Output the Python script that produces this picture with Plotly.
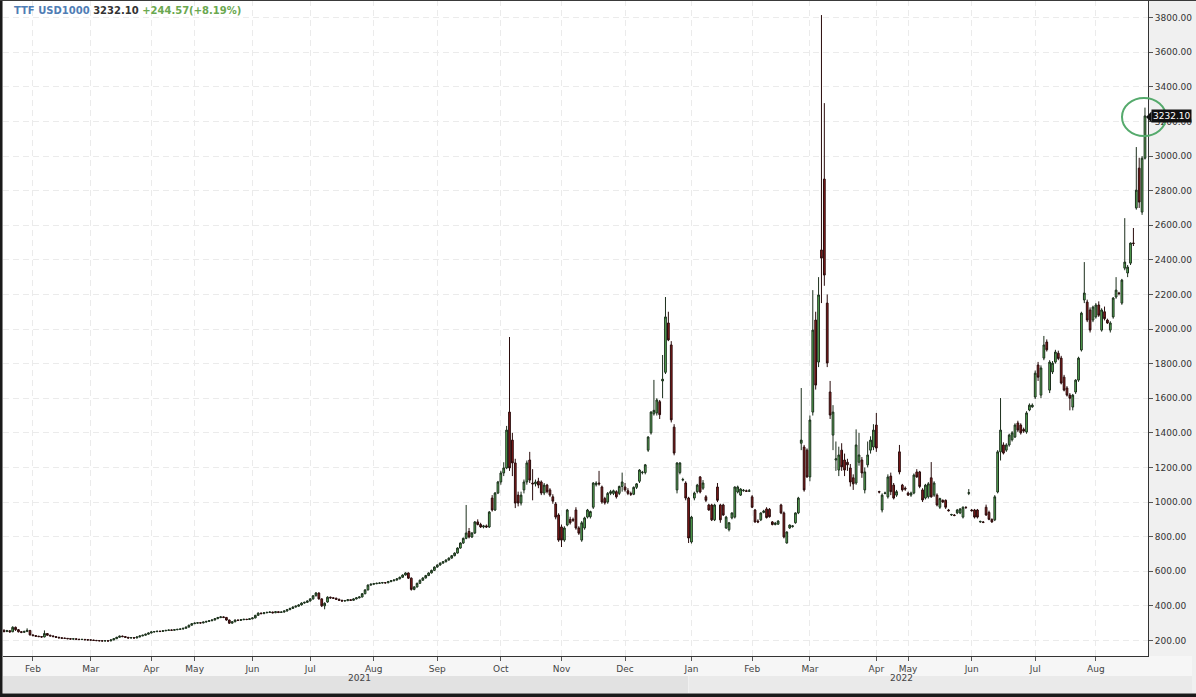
import plotly.graph_objects as go

# ---------------- data (open, high, low, close) per trading day, by month ----------------
jan21 = [(258,265,246,252),(252,261,248,256),(256,259,244,250),(250,282,248,276),(276,280,255,262),
         (262,266,246,250),(250,254,242,247),(247,256,243,252),(252,270,248,258),(258,260,228,232)]
feb21 = [(232,235,224,228),(228,231,221,224),(224,227,219,222),(222,225,216,220),(220,258,218,240),
         (240,242,227,230),(230,233,223,226),(226,229,219,222),(222,224,215,218),(218,221,212,215),
         (215,218,210,213),(213,216,209,212),(212,214,207,210),(210,213,205,208),(208,212,205,209),
         (209,211,204,207),(207,209,202,205),(205,209,202,206),(206,208,201,204),(204,207,200,203)]
mar21 = [(203,206,199,202),(202,204,197,200),(200,203,196,199),(199,201,195,198),(198,200,194,197),
         (197,201,195,198),(198,200,194,197),(197,206,196,203),(203,213,201,210),(210,221,208,218),
         (218,228,216,225),(225,228,219,222),(222,224,215,218),(218,220,211,214),(214,219,212,216),
         (216,218,211,214),(214,223,213,220),(220,229,218,226),(226,233,224,230),(230,239,228,236),
         (236,246,234,243)]
apr21 = [(243,252,241,249),(249,254,246,251),(251,256,248,253),(253,256,248,252),(252,259,250,256),
         (256,261,253,258),(258,263,255,260),(260,263,255,259),(259,265,257,262),(262,267,259,264),
         (264,269,261,266),(266,273,263,270),(270,280,268,277),(277,291,275,288),(288,300,286,297)]
may21 = [(297,304,294,300),(300,306,297,302),(302,305,297,301),(301,309,299,306),(306,313,303,310),
         (310,317,307,314),(314,322,311,318),(318,329,316,326),(326,336,323,332),(332,340,329,336),
         (336,339,329,333),(333,335,314,318),(318,320,295,300),(300,311,297,308),(308,321,305,318),
         (318,320,312,316),(316,323,313,320),(320,325,317,322),(322,325,317,321),(321,328,318,325)]
jun21 = [(325,333,322,330),(330,348,328,345),(345,362,342,358),(358,361,351,355),(355,364,352,360),
         (360,366,357,362),(362,368,359,364),(364,366,356,360),(360,370,358,366),(366,368,358,362),
         (362,368,359,364),(364,374,361,370),(370,382,367,378),(378,389,375,385),(385,397,382,393),
         (393,402,390,398),(398,409,395,405),(405,420,402,416),(416,424,412,420),(420,432,417,428)]
jul21 = [(428,445,425,440),(440,462,436,458),(458,480,455,474),(474,478,436,440),(440,444,393,400),
         (400,420,380,415),(422,455,418,450),(450,453,441,446),(446,450,440,444),(444,447,434,438),
         (438,441,428,432),(432,435,424,428),(428,434,425,430),(430,439,427,435),(435,438,428,432),
         (432,444,430,440),(440,450,437,446),(446,456,443,451),(451,474,449,470),(470,496,467,492),
         (492,524,489,520),(520,529,516,525)]
aug21 = [(525,532,522,528),(528,534,525,530),(530,536,527,532),(532,538,529,534),(534,537,528,533),
         (533,544,531,540),(540,549,537,545),(545,553,542,549),(549,560,546,556),(556,569,553,565),
         (565,582,562,578),(578,594,575,590),(590,593,555,560),(560,564,488,495),(495,514,490,509),
         (509,534,506,530),(530,552,527,548),(548,565,545,561),(561,579,558,575),(575,594,572,590),
         (590,609,587,605),(605,628,602,624)]
sep21 = [(624,640,620,636),(636,651,632,647),(647,659,643,655),(655,669,651,665),(665,680,661,676),
         (676,694,672,690),(690,709,686,705),(705,738,702,734),(734,767,730,763),(763,795,758,790),
         (790,983,785,821),(830,850,790,798),(798,826,792,821),(821,890,815,885),(885,900,865,870),
         (870,880,850,856),(856,868,848,862),(862,870,850,856),(856,948,850,942),(1023,1040,945,954),
         (954,1058,948,1052),(1052,1122,1046,1116)]
oct21 = [(1116,1180,1100,1168),(1168,1230,1150,1197),(1197,1440,1190,1416),(1520,1954,1180,1197),
         (1358,1400,1150,1226),(1226,1250,965,994),(1040,1060,975,994),(994,1060,980,1040),
         (1070,1130,1050,1116),(1116,1240,1100,1226),(1243,1290,1110,1127),(1110,1190,1010,1105),
         (1105,1130,1090,1116),(1120,1140,1080,1098),(1116,1125,1040,1052),(1052,1110,1040,1098),
         (1098,1105,1050,1060),(1070,1080,1030,1040),(1030,1045,990,1005),(989,1000,900,913),
         (925,935,770,780)]
nov21 = [(856,870,740,780),(780,860,770,850),(867,960,860,954),(900,915,870,880),(900,910,885,895),
         (954,970,840,850),(850,860,810,820),(780,890,770,880),(850,915,840,908),(913,960,905,954),
         (915,950,905,945),(970,1115,960,1110),(1100,1120,1090,1110),(1110,1180,1095,1105),
         (1087,1095,990,1000),(1020,1030,985,995),(1000,1058,990,1050),(1050,1070,1040,1060),
         (1050,1072,1040,1065),(1060,1068,1020,1030),(1050,1095,1040,1090),(1090,1170,1060,1116)]
dec21 = [(1087,1110,1060,1070),(1065,1080,1040,1050),(1050,1060,1035,1045),(1045,1090,1040,1085),
         (1085,1110,1075,1105),(1120,1190,1110,1185),(1170,1180,1160,1172),(1170,1220,1160,1215),
         (1300,1380,1290,1376),(1400,1525,1390,1520),(1510,1706,1500,1530),(1515,1600,1500,1590),
         (1580,1590,1480,1505),(1700,1850,1600,1710),(1750,2185,1740,2070),(2035,2100,1930,1937),
         (1908,1930,1460,1475),(1433,1450,1270,1283),(1070,1230,1050,1226),(1170,1230,1160,1226),
         (1127,1140,1120,1130),(1110,1120,1010,1023),(1023,1030,763,792)]
jan22 = [(769,920,760,913),(1023,1060,1010,1052),(1060,1105,1050,1098),(1145,1150,1050,1058),
         (1080,1127,1070,1110),(1030,1040,1000,1010),(983,990,950,954),(983,990,890,897),
         (897,990,890,983),(1087,1110,1000,1010),(983,990,880,897),(983,990,920,925),
         (850,920,845,913),(840,885,830,880),(908,940,900,937),(913,1090,905,1087),
         (1058,1095,1050,1087),(1040,1080,1035,1075),(1065,1075,1060,1068),(1065,1072,1058,1062),
         (1062,1075,1058,1065)]
feb22 = [(1030,1040,965,970),(954,960,880,885),(890,900,878,885),(897,940,890,937),(940,955,935,948),
         (960,970,905,910),(958,965,910,915),(885,890,865,870),(870,885,865,878),(872,895,868,890),
         (983,990,930,937),(937,945,790,798),(763,830,760,827),(850,870,845,867),(858,866,852,862),
         (880,940,875,937),(937,1030,930,1023),(1340,1659,1300,1358),(1318,1330,1060,1070),
         (1300,1310,1140,1145)]
mar22 = [(1145,1500,1120,1474),(1520,2225,1500,1994),(2052,2100,1650,1676),(1809,2300,1780,2197),
         (2457,3815,2150,2410),(2867,3306,2250,2312),(2150,2200,1780,1804),(1636,1700,1480,1503),
         (1387,1560,1300,1520),(1243,1350,1180,1250),(1185,1320,1150,1272),(1300,1340,1180,1203),
         (1243,1280,1150,1185),(1230,1250,1180,1215),(1197,1220,1090,1116),(1140,1160,1070,1105),
         (1110,1420,1100,1330),(1230,1400,1210,1272),(1243,1260,1140,1168),(1070,1200,1050,1174),
         (1215,1350,1200,1272),(1300,1380,1280,1358),(1318,1450,1300,1416)]
apr22 = [(1445,1515,1290,1312),(1060,1065,1050,1058),(954,1050,940,1040),(1050,1060,1045,1052),
         (1030,1160,1020,1145),(1150,1170,1040,1060),(1098,1110,1015,1023),(1040,1070,1030,1060),
         (1290,1330,1160,1174),(1098,1105,1060,1070),(1080,1090,1065,1075)]
may22 = [(1052,1060,1035,1040),(1040,1060,1030,1052),(1052,1165,1045,1156),(1174,1190,1140,1145),
         (1174,1180,1080,1090),(1070,1080,1000,1012),(1023,1105,1015,1098),(1030,1115,1020,1105),
         (1140,1231,1025,1030),(1040,1120,1030,1110),(1040,1050,975,983),(970,1025,960,1020),
         (1010,1015,995,1000),(1010,1015,960,970),(954,960,945,950),(925,932,920,928),
         (925,930,918,922),(937,960,930,954),(937,965,930,960),(913,975,905,970),
         (970,975,960,968),(1050,1075,1040,1054)]
jun22 = [(954,960,945,950),(954,960,905,913),(954,960,905,913),(885,892,880,888),(885,890,878,882),
         (970,985,920,925),(940,950,895,900),(900,905,880,885),(897,1040,890,1030),(1058,1300,1050,1290),
         (1290,1601,1240,1416),(1330,1345,1275,1283),(1300,1340,1290,1330),(1330,1395,1320,1387),
         (1360,1410,1350,1400),(1376,1455,1370,1445),(1457,1470,1405,1416),(1445,1455,1390,1400),
         (1420,1430,1400,1410),(1405,1525,1395,1515),(1532,1570,1525,1560),(1550,1570,1545,1560)]
jul22 = [(1607,1760,1595,1745),(1792,1810,1700,1722),(1618,1790,1600,1775),(1832,1960,1820,1908),
         (1925,1940,1870,1880),(1647,1820,1630,1809),(1752,1815,1740,1803),(1809,1880,1800,1867),
         (1860,1875,1820,1830),(1832,1845,1680,1688),(1722,1735,1640,1647),(1659,1670,1610,1618),
         (1618,1630,1530,1600),(1549,1625,1530,1618),(1636,1710,1625,1705),(1705,1840,1695,1832),
         (1879,2100,1870,2092),(2168,2387,2150,2208),(2156,2170,2040,2052),(2110,2125,1980,1994),
         (2052,2135,2040,2127)]
aug22 = [(2070,2150,2060,2139),(2139,2160,2070,2080),(1994,2120,1985,2110),(2100,2130,2050,2060),
         (2052,2060,2030,2035),(1994,2045,1980,2035),(2070,2185,2060,2179),(2185,2300,2175,2225),
         (2208,2215,2195,2205),(2150,2290,2140,2283),(2352,2641,2340,2387),(2324,2370,2300,2358),
         (2381,2500,2370,2497),(2497,2584,2480,2495),(2700,3052,2690,2803),(2930,2990,2700,2734),
         (2676,3000,2660,2987.53),(2987.53,3280,2980,3232.10)]

months = [jan21, feb21, mar21, apr21, may21, jun21, jul21, aug21, sep21, oct21, nov21, dec21,
          jan22, feb22, mar22, apr22, may22, jun22, jul22, aug22]
month_labels = ["Feb", "Mar", "Apr", "May", "Jun", "Jul", "Aug", "Sep", "Oct", "Nov", "Dec",
                "Jan", "Feb", "Mar", "Apr", "May", "Jun", "Jul", "Aug"]
y_ticks = list(range(200, 3801, 200))
last_price = 3232.10
change = 244.57
change_pct = 8.19

rows = [r for m in months for r in m]
opens = [r[0] for r in rows]
highs = [r[1] for r in rows]
lows = [r[2] for r in rows]
closes = [r[3] for r in rows]
xs = list(range(len(rows)))

tickvals = []
acc = 0
for m in months[:-1]:
    acc += len(m)
    tickvals.append(acc)

# --------------- layout geometry (pixels) ---------------
W, H = 1196, 697
PL, PR, PT, PB = 3, 1148, 0, 656


def xp(px):
    return (px - PL) / (PR - PL)


def yp(py):
    return (PB - py) / (PB - PT)


fig = go.Figure()
fig.add_trace(go.Candlestick(
    x=xs, open=opens, high=highs, low=lows, close=closes,
    increasing=dict(line=dict(color="#1c2f1c", width=1), fillcolor="#5cb85a"),
    decreasing=dict(line=dict(color="#2a0c0c", width=1), fillcolor="#8c1c1c"),
    whiskerwidth=0, showlegend=False, hoverinfo="skip",
))

font_main = "DejaVu Sans, Verdana, sans-serif"

shapes = [
    # x-label strip and year bands
    dict(type="rect", xref="paper", yref="paper", x0=xp(3), x1=xp(1192), y0=yp(676), y1=yp(656),
         fillcolor="#f6f6f6", line=dict(width=0), layer="below"),
    dict(type="rect", xref="paper", yref="paper", x0=xp(3), x1=xp(688), y0=yp(693), y1=yp(676),
         fillcolor="#e2e2e2", line=dict(width=0), layer="below"),
    dict(type="rect", xref="paper", yref="paper", x0=xp(689), x1=xp(1192), y0=yp(693), y1=yp(676),
         fillcolor="#eaeaea", line=dict(width=0), layer="below"),
    # dark frame
    dict(type="rect", xref="paper", yref="paper", x0=xp(0), x1=xp(2.5), y0=yp(697), y1=yp(0),
         fillcolor="#1a1a1a", line=dict(width=0)),
    dict(type="rect", xref="paper", yref="paper", x0=xp(0), x1=xp(1196), y0=yp(697), y1=yp(693.5),
         fillcolor="#1a1a1a", line=dict(width=0)),
    dict(type="rect", xref="paper", yref="paper", x0=xp(0), x1=xp(1196), y0=yp(1), y1=yp(0),
         fillcolor="#3a3a3a", line=dict(width=0)),
    # last-price pointer
    dict(type="path", xref="paper", yref="paper",
         path="M {} {} L {} {} L {} {} Z".format(xp(1146), yp(117), xp(1151.5), yp(111.5),
                                                 xp(1151.5), yp(122.5)),
         fillcolor="#111111", line=dict(width=0)),
]

annotations = [
    dict(xref="paper", yref="paper", x=xp(12), y=yp(10), xanchor="left", yanchor="middle",
         showarrow=False,
         text=("<b><span style='color:#4f7db5'>TTF USD1000</span> "
               "<span style='color:#333333'>{:.2f}</span> "
               "<span style='color:#6aa84f'>+{:.2f}(+{:.2f}%)</span></b>").format(last_price, change, change_pct),
         font=dict(family=font_main, size=10)),
    dict(xref="paper", yref="y", x=xp(1151), y=last_price, xanchor="left", yanchor="middle",
         showarrow=False, text="{:.2f}".format(last_price),
         font=dict(family=font_main, size=9, color="white"), bgcolor="#111111", borderpad=1),
    dict(xref="paper", yref="paper", x=xp(346), y=yp(685), showarrow=False, text="2021",
         font=dict(family=font_main, size=9, color="#444444")),
    dict(xref="paper", yref="paper", x=xp(915), y=yp(685), showarrow=False, text="2022",
         font=dict(family=font_main, size=9, color="#444444")),
]

# hand-drawn circle around last price (drawn on top)
shapes.append(dict(type="circle", xref="paper", yref="paper", x0=xp(1122), x1=xp(1166),
                   y0=yp(136), y1=yp(98), line=dict(color="#55aa6c", width=2)))

fig.update_layout(
    width=W, height=H,
    margin=dict(l=PL, r=W - PR, t=PT, b=H - PB, pad=0),
    paper_bgcolor="#f0f0f0", plot_bgcolor="#ffffff",
    font=dict(family=font_main, size=9, color="#333333"),
    xaxis=dict(
        range=[-0.35, len(rows) + 0.05], rangeslider=dict(visible=False),
        tickmode="array", tickvals=tickvals, ticktext=month_labels,
        ticks="outside", ticklen=4, tickcolor="#555555",
        showgrid=True, gridcolor="#ebebeb", griddash="6px,4px", gridwidth=1,
        showline=True, linecolor="#333333", linewidth=1, zeroline=False,
        tickfont=dict(family=font_main, size=9, color="#444444"),
    ),
    yaxis=dict(
        side="right", range=[110, 3902], tickmode="array", tickvals=y_ticks,
        tickformat=".2f", ticks="outside", ticklen=4, tickcolor="#555555",
        showgrid=True, gridcolor="#ebebeb", griddash="6px,4px", gridwidth=1,
        showline=True, linecolor="#333333", linewidth=1, zeroline=False,
        tickfont=dict(family=font_main, size=9, color="#333333"),
    ),
    boxgap=0.15,
    shapes=shapes, annotations=annotations,
)

fig.write_html(
    "out.html",
    config={"displayModeBar": False},
    post_script="document.body.style.margin='0';document.body.style.padding='0';"
                "document.body.style.overflow='hidden';",
)
